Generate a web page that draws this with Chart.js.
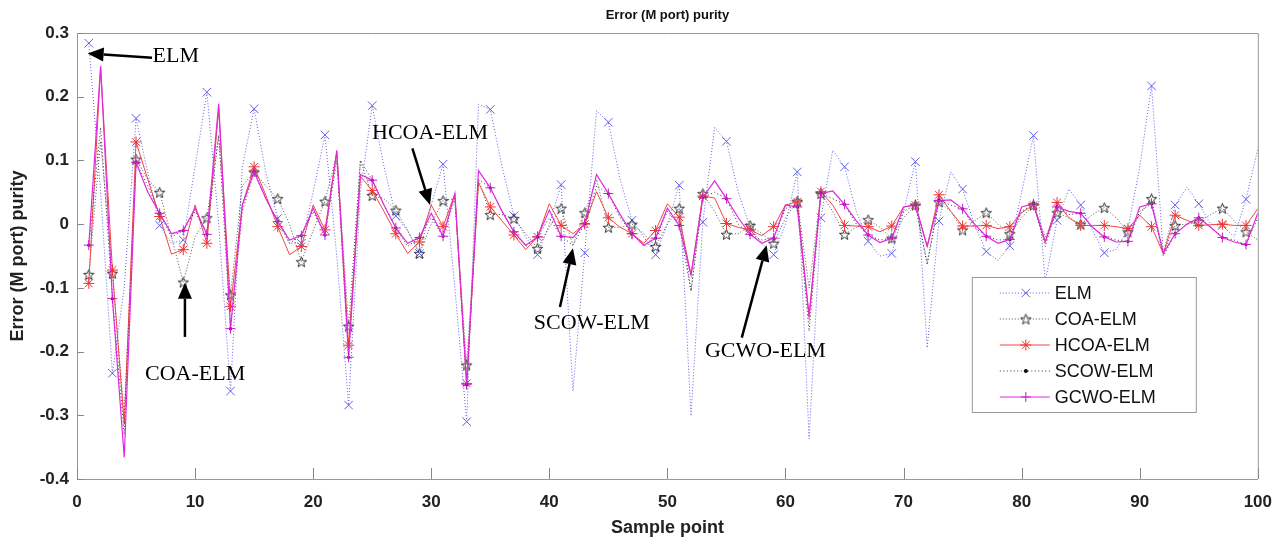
<!DOCTYPE html>
<html>
<head>
<meta charset="utf-8">
<script src="https://cdn.jsdelivr.net/npm/chart.js@4.4.0/dist/chart.umd.min.js"></script>
<style>
  body { margin: 0; background: #fff; }
  #wrap { width: 1285px; height: 542px; }
</style>
</head>
<body>
<div id="wrap"><canvas id="chart" width="1285" height="542"></canvas></div>
<script>
"use strict";

// Sample points (x axis)
const samplePoints = [
    1, 2, 3, 4, 5, 6, 7, 8, 9, 10, 11, 12, 13, 14, 15, 16, 17, 18, 19, 20,
    21, 22, 23, 24, 25, 26, 27, 28, 29, 30, 31, 32, 33, 34, 35, 36, 37, 38, 39, 40,
    41, 42, 43, 44, 45, 46, 47, 48, 49, 50, 51, 52, 53, 54, 55, 56, 57, 58, 59, 60,
    61, 62, 63, 64, 65, 66, 67, 68, 69, 70, 71, 72, 73, 74, 75, 76, 77, 78, 79, 80,
    81, 82, 83, 84, 85, 86, 87, 88, 89, 90, 91, 92, 93, 94, 95, 96, 97, 98, 99, 100
];

// Error values, one per sample point
const elm = [
    0.284, 0.05, -0.234, -0.10, 0.166, 0.08, -0.002, -0.03, -0.025, 0.09,
    0.207, 0.0, -0.262, 0.09, 0.181, 0.08, 0.009, -0.03, -0.03, 0.05,
    0.140, -0.05, -0.284, 0.05, 0.186, 0.09, 0.013, -0.01, -0.046, 0.03,
    0.094, -0.10, -0.310, 0.188, 0.180, 0.09, 0.013, -0.02, -0.048, 0.0,
    0.062, -0.262, -0.045, 0.178, 0.160, 0.07, 0.006, -0.02, -0.048, 0.0,
    0.061, -0.301, 0.003, 0.152, 0.130, 0.05, -0.005, -0.03, -0.048, 0.0,
    0.082, -0.337, 0.010, 0.116, 0.090, 0.02, -0.027, -0.05, -0.046, 0.02,
    0.098, -0.194, 0.005, 0.082, 0.055, 0.0, -0.043, -0.057, -0.034, 0.05,
    0.139, -0.09, 0.006, 0.055, 0.030, -0.01, -0.045, -0.04, -0.008, 0.09,
    0.217, -0.046, 0.030, 0.058, 0.032, 0.0, -0.002, -0.02, 0.039, 0.118
];
const coaElm = [
    -0.079, 0.13, -0.077, -0.30, 0.102, 0.07, 0.050, -0.02, -0.091, -0.02,
    0.010, 0.138, -0.111, 0.06, 0.082, 0.06, 0.040, 0.0, -0.059, -0.01,
    0.036, 0.11, -0.160, 0.10, 0.045, 0.04, 0.022, -0.01, -0.046, 0.0,
    0.037, 0.04, -0.221, 0.07, 0.015, 0.015, 0.009, -0.015, -0.038, -0.005,
    0.025, -0.033, 0.018, 0.07, -0.005, -0.005, 0.0, -0.015, -0.035, 0.0,
    0.025, -0.105, 0.048, 0.02, -0.016, -0.015, -0.002, -0.015, -0.030, 0.01,
    0.036, -0.10, 0.048, 0.02, -0.016, -0.005, 0.007, -0.005, -0.022, 0.01,
    0.030, -0.06, 0.035, 0.02, -0.009, 0.005, 0.018, 0.0, -0.015, 0.01,
    0.030, -0.02, 0.018, 0.01, 0.0, 0.015, 0.026, 0.01, -0.012, 0.015,
    0.040, -0.045, -0.002, 0.0, 0.004, 0.015, 0.025, 0.005, -0.012, -0.025
];
const hcoaElm = [
    -0.093, 0.245, -0.072, -0.314, 0.129, 0.07, 0.012, -0.047, -0.040, 0.030,
    -0.030, 0.180, -0.129, 0.03, 0.090, 0.045, -0.004, -0.048, -0.035, 0.030,
    -0.009, 0.113, -0.190, 0.075, 0.053, 0.02, -0.015, -0.046, -0.028, 0.030,
    -0.004, 0.048, -0.250, 0.065, 0.027, 0.005, -0.017, -0.04, -0.020, 0.032,
    -0.002, -0.015, 0.0, 0.051, 0.010, -0.005, -0.015, -0.03, -0.010, 0.032,
    0.011, -0.080, 0.044, 0.041, 0.001, -0.005, -0.009, -0.018, -0.004, 0.030,
    0.035, -0.145, 0.051, 0.03, -0.002, -0.003, -0.004, -0.012, -0.003, 0.027,
    0.030, -0.035, 0.046, 0.02, -0.003, -0.003, -0.002, -0.007, -0.004, 0.018,
    0.030, -0.028, 0.034, 0.01, -0.002, -0.002, -0.002, -0.004, -0.007, 0.014,
    -0.004, -0.046, 0.014, 0.006, -0.002, -0.001, 0.0, -0.002, -0.002, 0.024
];
const scowElm = [
    -0.033, 0.152, -0.117, -0.33, 0.097, 0.06, 0.017, -0.02, -0.010, 0.02,
    -0.016, 0.14, -0.164, 0.02, 0.082, 0.04, 0.004, -0.03, -0.018, 0.02,
    -0.017, 0.10, -0.209, 0.10, 0.069, 0.03, -0.006, -0.035, -0.021, 0.01,
    -0.019, 0.04, -0.252, 0.07, 0.057, 0.02, -0.012, -0.035, -0.020, 0.01,
    -0.019, -0.033, 0.001, 0.06, 0.048, 0.01, -0.015, -0.035, -0.022, 0.02,
    -0.002, -0.105, 0.042, 0.05, 0.040, 0.0, -0.016, -0.025, -0.022, 0.025,
    0.027, -0.168, 0.048, 0.04, 0.031, 0.0, -0.017, -0.025, -0.022, 0.02,
    0.030, -0.064, 0.037, 0.03, 0.024, -0.005, -0.019, -0.025, -0.024, 0.02,
    0.032, -0.035, 0.027, 0.015, 0.017, -0.005, -0.020, -0.025, -0.027, 0.02,
    0.032, -0.05, -0.015, 0.0, 0.010, -0.005, -0.021, -0.025, -0.032, 0.01
];
const gcwoElm = [
    -0.033, 0.248, -0.117, -0.366, 0.097, 0.05, 0.017, -0.015, -0.010, 0.025,
    -0.016, 0.189, -0.164, 0.03, 0.082, 0.04, 0.004, -0.025, -0.018, 0.025,
    -0.017, 0.116, -0.209, 0.078, 0.069, 0.03, -0.006, -0.030, -0.021, 0.017,
    -0.019, 0.048, -0.252, 0.084, 0.057, 0.02, -0.012, -0.033, -0.020, 0.022,
    -0.019, -0.021, 0.001, 0.078, 0.048, 0.015, -0.015, -0.033, -0.022, 0.025,
    -0.002, -0.080, 0.042, 0.068, 0.040, 0.01, -0.016, -0.030, -0.022, 0.030,
    0.027, -0.145, 0.048, 0.052, 0.031, 0.005, -0.017, -0.029, -0.022, 0.027,
    0.030, -0.035, 0.037, 0.038, 0.024, 0.0, -0.019, -0.030, -0.024, 0.027,
    0.032, -0.028, 0.027, 0.020, 0.017, -0.005, -0.020, -0.028, -0.027, 0.027,
    0.032, -0.046, -0.015, 0.0, 0.010, -0.005, -0.021, -0.028, -0.032, 0.017
];

// Axis ticks
const xTicks = [0, 10, 20, 30, 40, 50, 60, 70, 80, 90, 100];
const yTicks = [-0.4, -0.3, -0.2, -0.1, 0, 0.1, 0.2, 0.3];

// Arrow notes: label, text position, arrow tail, arrow tip (data units)
const notes = [
    { text: "ELM",      tx: 6.4,  ty: 0.264,  from: [6.35, 0.261],  to: [0.9, 0.268], align: "left" },
    { text: "COA-ELM",  tx: 10.0, ty: -0.236, from: [9.14, -0.177], to: [9.14, -0.092] },
    { text: "HCOA-ELM", tx: 29.9, ty: 0.142,  from: [28.4, 0.119],  to: [29.9, 0.030] },
    { text: "SCOW-ELM", tx: 43.6, ty: -0.155, from: [40.9, -0.130], to: [42.0, -0.038] },
    { text: "GCWO-ELM", tx: 58.3, ty: -0.200, from: [56.3, -0.178], to: [58.4, -0.033] }
];

// Hollow pentagram marker for COA-ELM
function makeStar(size) {
    const c = document.createElement("canvas");
    c.width = c.height = size;
    const g = c.getContext("2d");
    const cx = size / 2, cy = size / 2 + 0.6, R = size / 2 - 1, r = R * 0.42;
    g.beginPath();
    for (let i = 0; i < 10; i++) {
        const a = -Math.PI / 2 + i * Math.PI / 5;
        const rad = i % 2 ? r : R;
        g.lineTo(cx + rad * Math.cos(a), cy + rad * Math.sin(a));
    }
    g.closePath();
    g.strokeStyle = "#333";
    g.lineWidth = 1;
    g.stroke();
    return c;
}
const starImg = makeStar(13);

// markers only on every other sample (odd sample numbers)
const every2 = r => ctx => ctx.dataIndex % 2 === 0 ? r : 0;
const toXY = arr => arr.map((v, i) => ({ x: samplePoints[i], y: v }));

const datasets = [
    {
        label: "ELM", data: toXY(elm), order: 5,
        borderColor: "rgb(95,95,235)", borderWidth: 1, borderDash: [1, 2],
        pointStyle: "crossRot", pointRadius: every2(6),
        pointBorderColor: "rgb(95,95,235)", pointBorderWidth: 1
    },
    {
        label: "COA-ELM", data: toXY(coaElm), order: 4,
        borderColor: "#555", borderWidth: 1, borderDash: [1, 2],
        pointStyle: starImg, pointRadius: every2(6),
        pointBorderColor: "#333"
    },
    {
        label: "HCOA-ELM", data: toXY(hcoaElm), order: 3,
        borderColor: "rgb(240,70,70)", borderWidth: 1,
        pointStyle: "star", pointRadius: every2(5.5),
        pointBorderColor: "rgb(240,50,50)", pointBorderWidth: 1
    },
    {
        label: "SCOW-ELM", data: toXY(scowElm), order: 2,
        borderColor: "#333", borderWidth: 1, borderDash: [1, 2.5],
        pointStyle: "circle", pointRadius: every2(1.6),
        pointBorderColor: "#111", pointBackgroundColor: "#111", pointBorderWidth: 0
    },
    {
        label: "GCWO-ELM", data: toXY(gcwoElm), order: 1,
        borderColor: "rgb(225,40,225)", borderWidth: 1.2,
        pointStyle: "cross", pointRadius: every2(5),
        pointBorderColor: "rgb(200,30,200)", pointBorderWidth: 1
    }
];

const sansFamily = "'Liberation Sans', Arial, sans-serif";

// Title, inward ticks, box outline, arrow notes and legend, drawn like the MATLAB figure
const figureExtras = {
    id: "figureExtras",
    afterDatasetsDraw(chart) {
        const { ctx, chartArea: a, scales: { x, y } } = chart;
        ctx.save();

        // title centred over the plot box
        ctx.fillStyle = "#111";
        ctx.font = "bold 13px " + sansFamily;
        ctx.textAlign = "center";
        ctx.textBaseline = "middle";
        ctx.fillText("Error (M port) purity", (a.left + a.right) / 2, 15);

        // box + ticks
        ctx.strokeStyle = "#999";
        ctx.lineWidth = 1;
        ctx.beginPath();
        ctx.moveTo(a.left, a.top + 0.5);
        ctx.lineTo(a.right + 0.5, a.top + 0.5);
        ctx.lineTo(a.right + 0.5, a.bottom);
        ctx.stroke();
        ctx.strokeStyle = "#888";
        ctx.beginPath();
        xTicks.forEach(t => {
            const px = Math.round(x.getPixelForValue(t)) + 0.5;
            ctx.moveTo(px, a.bottom);
            ctx.lineTo(px, a.bottom - 11);
        });
        yTicks.forEach(t => {
            const py = Math.round(y.getPixelForValue(t)) + 0.5;
            ctx.moveTo(a.left, py);
            ctx.lineTo(a.left + 7, py);
        });
        ctx.stroke();

        // arrow notes
        ctx.fillStyle = "#000";
        ctx.strokeStyle = "#000";
        ctx.font = "22px 'Liberation Serif', 'Times New Roman', serif";
        notes.forEach(n => {
            const x0 = x.getPixelForValue(n.from[0]), y0 = y.getPixelForValue(n.from[1]);
            const x1 = x.getPixelForValue(n.to[0]), y1 = y.getPixelForValue(n.to[1]);
            const ang = Math.atan2(y1 - y0, x1 - x0);
            const headLen = 16, headW = 7;
            const bx = x1 - headLen * Math.cos(ang), by = y1 - headLen * Math.sin(ang);
            ctx.lineWidth = 2.5;
            ctx.beginPath();
            ctx.moveTo(x0, y0);
            ctx.lineTo(bx, by);
            ctx.stroke();
            ctx.beginPath();
            ctx.moveTo(x1, y1);
            ctx.lineTo(bx + headW * Math.sin(ang), by - headW * Math.cos(ang));
            ctx.lineTo(bx - headW * Math.sin(ang), by + headW * Math.cos(ang));
            ctx.closePath();
            ctx.fill();
            ctx.textAlign = n.align || "center";
            ctx.fillText(n.text, x.getPixelForValue(n.tx), y.getPixelForValue(n.ty));
        });

        // legend box
        const lx = a.right - 286, ly = a.top + 244, lw = 224, lh = 135;
        ctx.fillStyle = "#fff";
        ctx.fillRect(lx, ly, lw, lh);
        ctx.strokeStyle = "#999";
        ctx.lineWidth = 1;
        ctx.strokeRect(lx + 0.5, ly + 0.5, lw, lh);
        ctx.font = "18px " + sansFamily;
        ctx.textAlign = "left";
        datasets.forEach((ds, i) => {
            const ry = ly + 16 + i * 26;
            ctx.strokeStyle = ds.borderColor;
            ctx.lineWidth = 1;
            ctx.setLineDash(ds.borderDash || []);
            ctx.beginPath();
            ctx.moveTo(lx + 28, ry);
            ctx.lineTo(lx + 78, ry);
            ctx.stroke();
            ctx.setLineDash([]);
            ctx.strokeStyle = ds.pointBorderColor;
            ctx.fillStyle = ds.pointBackgroundColor || ds.pointBorderColor;
            Chart.helpers.drawPoint(ctx, {
                pointStyle: ds.pointStyle,
                radius: ds.pointRadius({ dataIndex: 0 }),
                rotation: 0,
                borderWidth: 1
            }, lx + 54, ry);
            ctx.fillStyle = "#111";
            ctx.fillText(ds.label, lx + 83, ry + 1);
        });

        ctx.restore();
    }
};

const tickFont = { family: sansFamily, size: 17, weight: "bold" };

new Chart(document.getElementById("chart"), {
    type: "line",
    data: { datasets: datasets },
    options: {
        responsive: false,
        animation: false,
        events: [],
        layout: { padding: { left: 0, right: 27, top: 33, bottom: 0 } },
        plugins: {
            legend: { display: false },
            tooltip: { enabled: false },
            title: { display: false }
        },
        scales: {
            x: {
                type: "linear",
                min: 0, max: 100,
                afterFit: s => { s.height = 63; },
                afterBuildTicks: s => { s.ticks = xTicks.map(v => ({ value: v })); },
                grid: { display: false, drawTicks: false },
                border: { display: true, color: "#999" },
                ticks: { color: "#222", font: tickFont, padding: 13, maxRotation: 0 },
                title: {
                    display: true, text: "Sample point", color: "#222",
                    font: { family: sansFamily, size: 18, weight: "bold" },
                    padding: { top: 0, bottom: 3 }
                }
            },
            y: {
                min: -0.4, max: 0.3,
                afterFit: s => { s.width = 77; },
                afterBuildTicks: s => { s.ticks = yTicks.map(v => ({ value: v })); },
                grid: { display: false, drawTicks: false },
                border: { display: true, color: "#999" },
                ticks: {
                    color: "#222", font: tickFont, padding: 8,
                    callback: v => Math.round(v * 10) / 10
                },
                title: {
                    display: true, text: "Error (M port) purity", color: "#222",
                    font: { family: sansFamily, size: 18, weight: "bold" },
                    padding: { top: 7, bottom: 0 }
                }
            }
        }
    },
    plugins: [figureExtras]
});
</script>
</body>
</html>
